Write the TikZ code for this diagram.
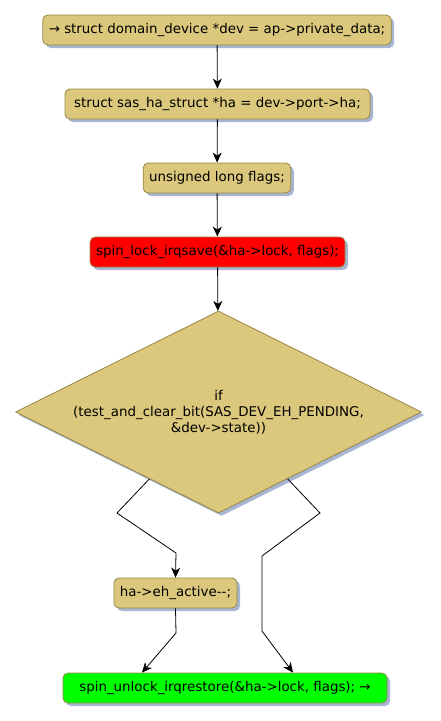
\documentclass[tikz,border=0pt]{standalone}
\usepackage{fontspec}
\setmainfont{DejaVu Sans}[Ligatures=TeXOff]
\usetikzlibrary{arrows.meta,shapes.geometric,shadows,calc}

\tikzset{
    stepbox/.style={draw=boxborder, fill=boxfill, rounded corners=5pt, line width=0.8pt,
        minimum height=30pt, inner xsep=6pt, inner ysep=0pt, text=black,
        drop shadow={shadow xshift=3pt, shadow yshift=-3pt, fill=shadowc, opacity=1}},
    decision/.style={diamond, aspect=2.01, draw=boxborder, fill=boxfill, line width=0.8pt,
        minimum width=406pt, minimum height=202pt, inner sep=0pt, align=center,
        drop shadow={shadow xshift=3pt, shadow yshift=-3pt, fill=shadowc, opacity=1}},
    flow/.style={-{Stealth[length=10pt, width=9pt, inset=3pt]}, line width=0.8pt}
}

\begin{document}
\begin{tikzpicture}[x=1pt, y=-1pt, font=\fontsize{13.4}{16}\selectfont]
    % Define colors
    \definecolor{boxfill}{RGB}{219,200,124}
    \definecolor{boxborder}{RGB}{150,135,70}
    \definecolor{shadowc}{RGB}{168,182,212}

    % Fix the canvas
    \useasboundingbox (0,0) rectangle (440,721);

    % Statements
    \node[stepbox] (dev) at (217,30) {→ struct domain\_device *dev = ap->private\_data;};
    \node[stepbox, minimum width=305pt] (ha) at (217.5,104) {struct sas\_ha\_struct *ha = dev->port->ha;};
    \node[stepbox] (flags) at (217,178) {unsigned long flags;};
    \node[stepbox, fill=red] (lock) at (217.5,252) {spin\_lock\_irqsave(\&ha->lock, flags);};

    % Decision
    \node[decision] (test) at (218.5,412) {if\\(test\_and\_clear\_bit(SAS\_DEV\_EH\_PENDING,\\\&dev->state))};

    % Branch body and join
    \node[stepbox] (active) at (175.5,593) {ha->eh\_active--;};
    \node[stepbox, fill=green, minimum width=324pt] (unlock) at (225,688) {spin\_unlock\_irqrestore(\&ha->lock, flags); →};

    % Straight arrows
    \draw[flow] (dev) -- (ha);
    \draw[flow] (ha) -- (flags);
    \draw[flow] (flags) -- (lock);
    \draw[flow] (lock) -- (test);

    % Branch arrows
    \draw[flow] ($(test.west)!0.66!(test.south)$) -- (117,513) -- (176,553) -- (active.north);
    \draw[flow] ($(test.east)!0.66!(test.south)$) -- (320,513) -- (262,556) -- (262,631)
        -- ([xshift=68pt]unlock.north);
    \draw[flow] (active.south) -- (176,633) -- ([xshift=-83pt]unlock.north);

\end{tikzpicture}
\end{document}
